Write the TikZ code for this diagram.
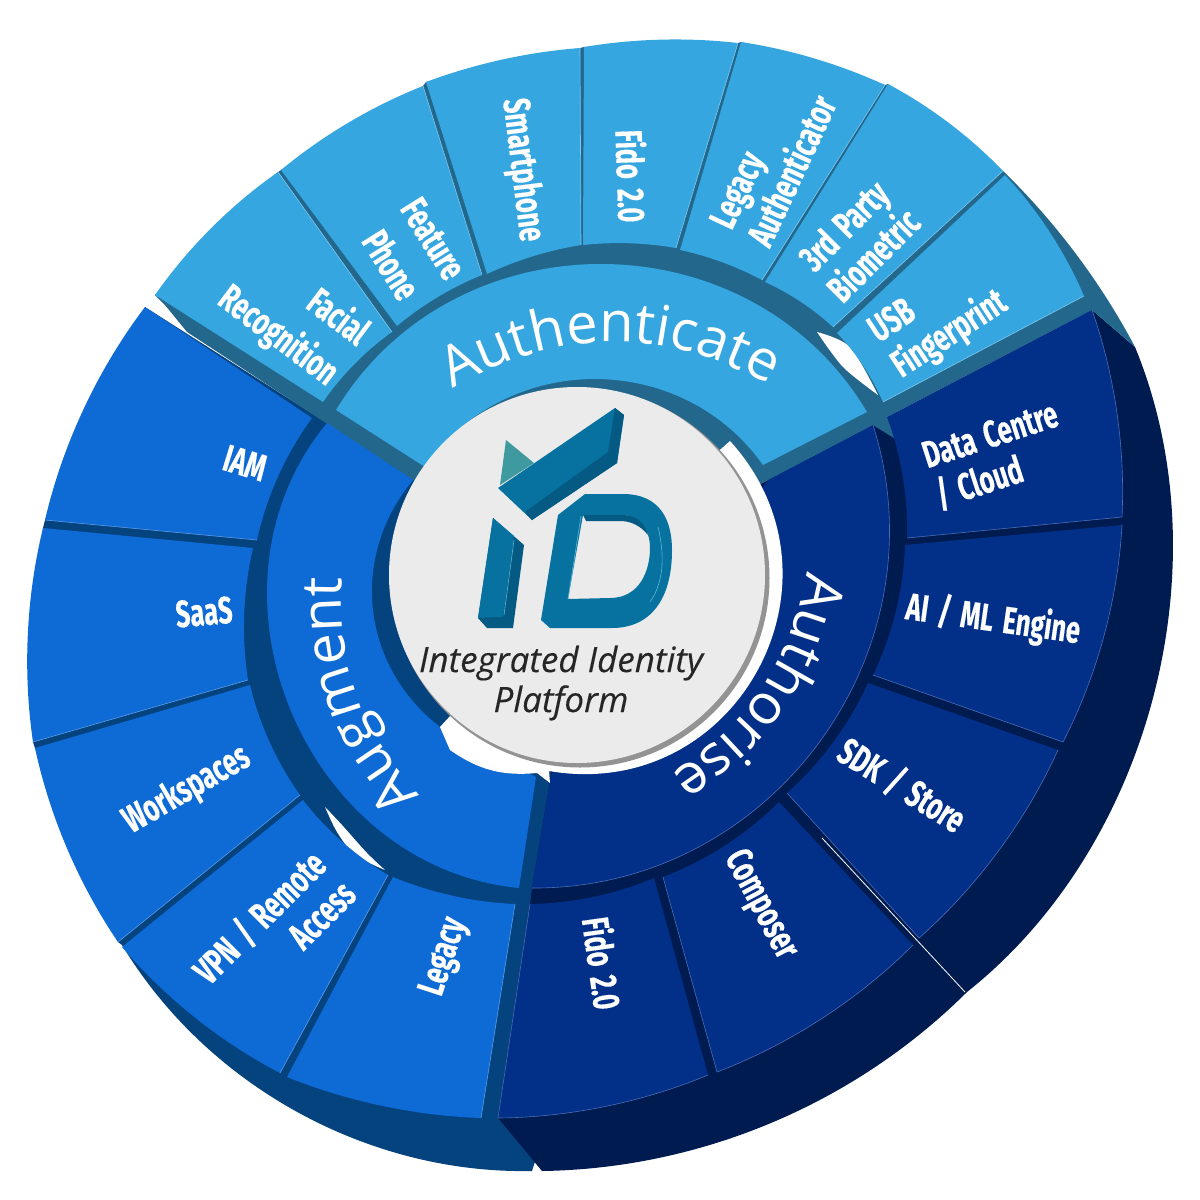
\documentclass[tikz,border=0pt]{standalone}
\usepackage{fontspec}
\usetikzlibrary{decorations.text}
\newfontfamily\labfont[FakeStretch=0.67,FakeBold=0.3,WordSpace=1.6]{Fira Sans}
\newfontfamily\ringfont{Open Sans}
\newfontfamily\mottofont[FakeBold=0.15]{Open Sans}

\definecolor{skyface}{HTML}{36A6E0}
\definecolor{skyback}{HTML}{23688C}
\definecolor{skyedge}{HTML}{7CC8EE}
\definecolor{blueface}{HTML}{0E6AD5}
\definecolor{blueback}{HTML}{05437F}
\definecolor{blueedge}{HTML}{5A9BE6}
\definecolor{navyface}{HTML}{022F87}
\definecolor{navyback}{HTML}{001B50}
\definecolor{navyedge}{HTML}{4A6DB5}
\definecolor{logoface}{HTML}{07729F}
\definecolor{logodark}{HTML}{045A82}
\definecolor{logolite}{HTML}{5DB6D6}
\definecolor{logotri}{HTML}{3F9A9F}

% one wheel segment: style, bend, then the four corners
\newcommand{\petal}[6]{%
  \fill[#1] (#3) to[bend left=#2, looseness=.85] (#4) -- (#5) to[bend right=#2, looseness=.85] (#6) -- cycle;
  \draw[#1 rim] (#4) -- (#5);
  \path[#1 arc] (#3) to[bend left=#2, looseness=.85] (#4);
}

\begin{document}
\begin{tikzpicture}[
    x=1pt, y=-1pt,
    sky/.style={fill=skyface},
    sky rim/.style={draw=skyedge, line width=.6pt},
    sky arc/.style={},
    blue/.style={fill=blueface},
    blue rim/.style={draw=blueedge, line width=.6pt},
    blue arc/.style={},
    navy/.style={fill=navyface},
    navy rim/.style={draw=navyedge, line width=.6pt},
    navy arc/.style={draw=navyedge, line width=.6pt},
    lab/.style={text=white, font=\labfont\bfseries\fontsize{38}{42}\selectfont, inner sep=0pt},
    ringtext/.style={decorate, decoration={text along path, text align=center, text={|\ringfont\fontsize{56}{56}\selectfont\color{white}|#1}}}
]
\useasboundingbox (0,0) rectangle (1200,1200);

% Backings
\fill[blueback] (145,307) -- (45,520) -- (43,528) -- (33,742) -- (35,748) -- (118,942) -- (122,945) to[bend right=30, looseness=.9] (532,1171) -- (620,900) -- (620,600) -- (420,480) -- (327,423) -- cycle;
\fill[navyback] (1092,310) -- (1135,347) to[bend left=37, looseness=.9] (967,992) to[bend left=22, looseness=.88] (542,1171) -- (498,1118) -- (530,904) -- (532,888) -- (551,775) -- (578,576) -- (768,480) -- (873,425) -- cycle;
\fill[skyback] (155,295) -- (278,172) -- (281,170) -- (423,86) -- (426,82) -- (580,48) -- (584,47) -- (738,43) -- (741,42) -- (885,85) -- (888,84) -- (1003,171) to[bend left=9, looseness=.85] (1135,347) -- (1092,310) -- (887,417) -- (897,440) -- (873,425) -- (768,480) -- (578,576) -- (413,480) -- (187,332) -- (165,305) -- cycle;
\draw[white, line width=.8pt] (822,838) -- (965,992);

% Gaps between the rings
\fill[white] plot[smooth] coordinates {(817,332) (850,347) (878,395)} -- plot[smooth] coordinates {(878,395) (843,367) (817,332)} -- cycle;
\fill[white] plot[smooth] coordinates {(325,807) (342,825) (367,853) (385,870)} -- plot[smooth] coordinates {(385,870) (355,855) (337,832) (325,807)} -- cycle;

% Augment
\petal{blue}{-12}{145,307}{45,520}{257,540}{312,418}
\petal{blue}{-11}{43,528}{33,742}{248,680}{253,548}
\petal{blue}{-11}{35,748}{118,942}{300,795}{250,685}
\petal{blue}{-11}{122,947}{280,1073}{388,875}{303,800}
\petal{blue}{-10}{287,1077}{481,1118}{515,904}{393,877}
\fill[blue] (327,423) to[bend right=62, looseness=1.1] (519,888) -- (536,777) -- (440,727) to[bend left=46, looseness=1.03] (413,480) -- cycle;

% Authorise
\petal{navy}{11}{1092,310}{1122,517}{907,538}{887,417}
\petal{navy}{12}{1122,525}{1063,742}{873,675}{905,545}
\petal{navy}{12}{1058,750}{919,938}{787,793}{868,683}
\petal{navy}{12}{913,945}{717,1072}{663,877}{779,802}
\petal{navy}{11}{708,1075}{498,1118}{530,904}{654,878}
\fill[navy] (873,425) to[bend left=54, looseness=1.06] (532,888) -- (551,775) -- (768,480) -- cycle;
\draw[navy arc] (873,425) to[bend left=54, looseness=1.06] (532,888);

% Authenticate
\petal{sky}{10}{155,295}{278,172}{392,332}{323,402}
\petal{sky}{9}{281,170}{423,86}{482,275}{397,326}
\petal{sky}{8}{426,82}{580,48}{581,245}{487,274}
\petal{sky}{8}{584,47}{738,43}{676,248}{583,245}
\petal{sky}{8}{741,42}{885,85}{762,280}{680,250}
\petal{sky}{9}{888,84}{1003,171}{833,327}{765,282}
\petal{sky}{10}{1005,175}{1084,296}{883,402}{837,333}
\fill[sky] (336,410) to[bend left=59, looseness=1.1] (867,412) -- (763,465) to[bend right=55, looseness=1.07] (425,467) -- cycle;

% Hub
\fill[white] (730,441) to[bend left=71, looseness=1.29] (549,771) -- (550,783) -- (537,773) to[bend left=20] (450,750) -- (440,727) -- (578,576) -- cycle;
\fill[gray!85] (580,578) circle (189.5);
\fill[black!8] (577,575) circle (188);

% Logo
\fill[logotri] (506,440) -- (534,463) -- (500,485) -- cycle;
\fill[logoface] (498,488) -- (615,408) -- (624,415) -- (617,463) -- (532,520) -- cycle;
\fill[logodark] (615,408) -- (624,415) -- (617,463) -- (608,452) -- cycle;
\fill[logodark] (525,512) -- (608,452) -- (617,463) -- (532,520) -- cycle;
\fill[logodark] (493,518) -- (524,545) -- (513,628) -- (478,618) -- cycle;
\fill[logoface] (478,618) -- (493,518) -- (514,536) -- (503,617) -- cycle;
\fill[logodark] (478,618) -- (503,617) -- (513,628) -- (487,628) -- cycle;
\draw[logolite, line width=.6pt] (514,540) -- (504,615);
\fill[logoface, even odd rule] (541,620) -- (558,515) -- (585,494) -- (623,494)
  .. controls (660,494) and (672,520) .. (672,550) .. controls (672,600) and (650,628) .. (612,628)
  -- (550,628) -- cycle
  (583,515) -- (568,599) -- (610,598) .. controls (640,598) and (650,570) .. (650,548)
  .. controls (650,525) and (635,515) .. (623,515) -- cycle;
\fill[logodark] (583,515) -- (623,515) .. controls (635,515) and (645,522) .. (648,535) .. controls (640,525) and (630,521) .. (620,521) -- (586,521) -- cycle;
\draw[logolite, line width=.6pt] (581,516) -- (568,599);
\draw[logolite, line width=.6pt] (658,527) .. controls (666,560) and (662,585) .. (650,602);

\node [inner sep=0pt, align=center, text=black!85, font=\mottofont\itshape\fontsize{35}{40}\selectfont] (motto) at (561,683) {Integrated Identity\\Platform};

% Ring titles
\path[ringtext=Authenticate] (447,392) to[bend left=30] (775,388);
\path[ringtext=Authorise] (808,565) to[bend left=24] (665,778);
\path[ringtext=Augment] (420,795) to[bend left=22] (342,578);

% Labels, top
\node [lab, rotate=-37, align=right] (facial) at (293,316) {Facial\\[8pt]Recognition};
\node [lab, rotate=-58, align=center] (feature) at (412,252) {Feature\\[8pt]Phone};
\node [lab, rotate=-83] (smartphone) at (522,170) {Smartphone};
\node [lab, rotate=-88] (fidotop) at (632,176) {Fido 2.0};
\node [lab, rotate=65, align=left] (legacytop) at (773,162) {Legacy\\Authenticator};
\node [lab, rotate=45, align=center] (thirdparty) at (858,240) {3rd Party\\Biometric};
\node [lab, rotate=33, align=left] (usb) at (939,318) {USB\\Fingerprint};

% Labels, right
\node [lab, rotate=18, align=left] (datacentre) at (997,456) {Data Centre\\/ Cloud};
\node [lab, rotate=-8] (aiml) at (993,620) {AI / ML Engine};
\node [lab, rotate=-32] (sdk) at (902,785) {SDK / Store};
\node [lab, rotate=-62] (composer) at (760,905) {Composer};
\node [lab, rotate=-82] (fidolow) at (603,963) {Fido 2.0};

% Labels, left
\node [lab, rotate=72] (legacylow) at (445,957) {Legacy};
\node [lab, rotate=45, align=right] (vpn) at (273,931) {VPN / Remote\\Access};
\node [lab, rotate=30] (workspaces) at (187,790) {Workspaces};
\node [lab, rotate=5] (saas) at (204,612) {SaaS};
\node [lab, rotate=-17] (iam) at (245,463) {IAM};

\end{tikzpicture}
\end{document}
